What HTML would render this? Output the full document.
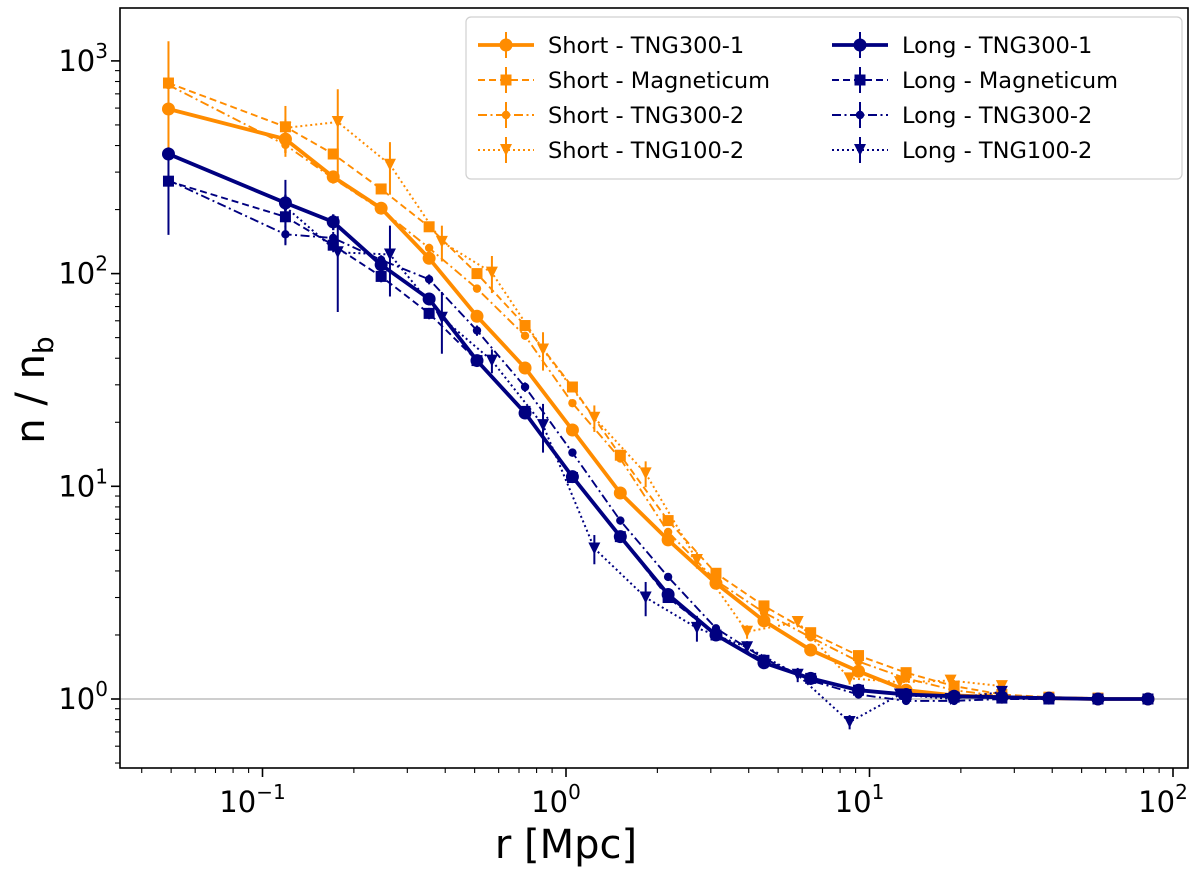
<!DOCTYPE html>
<html><head><meta charset="utf-8"><style>
body{margin:0;background:#fff;}
svg text{font-family:"DejaVu Sans","Liberation Sans",sans-serif;}
</style></head><body>
<svg id="chart" width="1200" height="868" viewBox="0 0 1200 868" xmlns="http://www.w3.org/2000/svg">
<g id="grid"></g><g id="series"></g><g id="axes"></g><g id="legend"></g>
</svg>
<script>
const xA = [0.049,0.119,0.171,0.246,0.354,0.509,0.733,1.05,1.51,2.17,3.12,4.49,6.4,9.2,13.2,19,27.3,39,56.6,82.7];
const xB = [0.119,0.177,0.263,0.39,0.57,0.84,1.24,1.83,2.7,3.95,5.8,8.6,12.6,18.5,27.3];
const shortTNG300_1 = [594,429,285,203,118,63,36,18.4,9.3,5.6,3.5,2.33,1.70,1.35,1.10,1.04,1.02,1.01,1.0,1.0];
const shortTNG300_1Err = [0,60,20,10,6,3,1.5,0.6,0.3,0.15,0.1,0.05,0.04,0.03,0.02,0.01,0.01,0,0,0];
const shortMag = [787,490,365,250,166,100,57,29.3,14,6.9,3.9,2.74,2.05,1.6,1.33,1.15,1.05,1.02,1.01,1.0];
const shortMagErr = [450,40,20,10,6,3,1.5,0.6,0.3,0.15,0.1,0.05,0.04,0.03,0.02,0.01,0.01,0,0,0];
const shortTNG300_2 = [770,403,280,200,132,85,51,24.6,13.5,6.1,3.6,2.55,1.95,1.5,1.25,1.1,1.03,1.02,1.01,1.0];
const shortTNG300_2Err = [0,30,15,8,6,3,1.5,0.6,0.3,0.15,0.1,0.05,0.04,0.03,0.02,0.01,0.01,0,0,0];
const shortTNG100_2 = [484,516,325,141,101,44,21,11.5,4.5,2.07,2.3,1.25,1.2,1.22,1.15];
const shortTNG100_2Err = [130,220,90,27,20,9,3,1.6,0.4,0.15,0.12,0.08,0.06,0.05,0.05];
const longTNG300_1 = [365,215,175,110,76,39,22.1,11.1,5.8,3.1,2.0,1.48,1.25,1.1,1.05,1.03,1.02,1.01,1.0,1.0];
const longTNG300_1Err = [0,20,15,8,5,2,1,0.5,0.25,0.12,0.08,0.04,0.03,0.02,0.01,0.01,0,0,0,0];
const longMag = [272,185,136,97,65,39,22.5,11,5.8,3.0,2.0,1.52,1.25,1.1,1.05,1.02,1.01,1.0,1.0,1.0];
const longMagErr = [120,20,10,6,4,2,1,0.5,0.25,0.12,0.08,0.04,0.03,0.02,0.01,0.01,0,0,0,0];
const longTNG300_2 = [275,153,147,116,94,54,29.3,14.4,6.9,3.75,2.15,1.55,1.22,1.05,0.98,0.98,1.0,1.0,1.0,1.0];
const longTNG300_2Err = [0,15,10,6,5,3,1.5,0.6,0.3,0.15,0.08,0.04,0.03,0.02,0.01,0.01,0,0,0,0];
const longTNG100_2 = [206,126,123,62,39,19.4,5.1,3.0,2.16,1.75,1.3,0.78,1.05,1.0,1.08];
const longTNG100_2Err = [70,60,45,20,5,5,0.8,0.55,0.3,0.12,0.1,0.06,0.05,0.04,0.05];
const xTicks = [-1,0,1,2];
const yTicks = [0,1,2,3];

const NS="http://www.w3.org/2000/svg";
const L=120,R=1188,T=8,B=768;
function sx(v){return 566+303.5*Math.log10(v);}
function sy(v){return 699-212.7*Math.log10(v);}
function mk(tag,attrs,parent){const e=document.createElementNS(NS,tag);for(const k in attrs)e.setAttribute(k,attrs[k]);parent.appendChild(e);return e;}
const ORANGE="#ff8c00",NAVY="#000080";
const styles={solid:{w:3.8,d:"none"},dashed:{w:1.9,d:"7,4"},dashdot:{w:1.9,d:"9,3.5,2,3.5"},dotted:{w:2,d:"2,3"}};
function marker(g,type,x,y,c){
  let m;
  if(type==="circle")m=mk("circle",{cx:x,cy:y,r:6.5,fill:c},g);
  else if(type==="square")m=mk("rect",{x:x-5.5,y:y-5.5,width:11,height:11,fill:c},g);
  else if(type==="small")m=mk("circle",{cx:x,cy:y,r:4.2,fill:c},g);
  else m=mk("path",{d:`M${x-6},${y-6}L${x+6},${y-6}L${x},${y+6}Z`,fill:c},g);
  return m;
}
const sg=document.getElementById("series");
function drawSeries(name,xs,ys,errs,c,ls,mt){
  const g=mk("g",{},sg);
  
  
  const st=styles[ls];
  const pts=xs.map((x,i)=>sx(x).toFixed(1)+","+sy(ys[i]).toFixed(1)).join(" ");
  const pl=mk("polyline",{points:pts,fill:"none",stroke:c,"stroke-width":st.w,"stroke-dasharray":st.d,"stroke-linejoin":"round"},g);
  
  
  xs.forEach((x,i)=>{
    const e=errs[i];
    if(e>0){
      const lo=Math.max(ys[i]-e,0.3);
      const eb=mk("line",{x1:sx(x),x2:sx(x),y1:sy(lo),y2:sy(ys[i]+e),stroke:c,"stroke-width":st.w>2?2.4:2},g);
      
      
    }
    const m=marker(g,mt,sx(x),sy(ys[i]),c);
    
    
  });
}
const gl=mk("line",{x1:L,x2:R,y1:sy(1),y2:sy(1),stroke:"#b0b0b0","stroke-width":1.2},document.getElementById("grid"));



drawSeries("short-tng300-2",xA,shortTNG300_2,shortTNG300_2Err,ORANGE,"dashdot","small");
drawSeries("short-tng100-2",xB,shortTNG100_2,shortTNG100_2Err,ORANGE,"dotted","tri");
drawSeries("short-magneticum",xA,shortMag,shortMagErr,ORANGE,"dashed","square");
drawSeries("short-tng300-1",xA,shortTNG300_1,shortTNG300_1Err,ORANGE,"solid","circle");
drawSeries("long-tng300-2",xA,longTNG300_2,longTNG300_2Err,NAVY,"dashdot","small");
drawSeries("long-tng100-2",xB,longTNG100_2,longTNG100_2Err,NAVY,"dotted","tri");
drawSeries("long-magneticum",xA,longMag,longMagErr,NAVY,"dashed","square");
drawSeries("long-tng300-1",xA,longTNG300_1,longTNG300_1Err,NAVY,"solid","circle");

const ax=document.getElementById("axes");
const fr=mk("rect",{x:L,y:T,width:R-L,height:B-T,fill:"none",stroke:"#000","stroke-width":1.6},ax);


for(let d=-2;d<=2;d++){for(let k=1;k<10;k++){
  const v=k*Math.pow(10,d),px=sx(v);
  if(px<L||px>R)continue;
  mk("line",{x1:px,x2:px,y1:B,y2:B+(k===1?9:5),stroke:"#000","stroke-width":k===1?1.6:1.1},ax);
}}
for(let d=-1;d<=3;d++){for(let k=1;k<10;k++){
  const v=k*Math.pow(10,d),py=sy(v);
  if(py<T||py>B)continue;
  mk("line",{x1:L,x2:L-(k===1?9:5),y1:py,y2:py,stroke:"#000","stroke-width":k===1?1.6:1.1},ax);
}}
xTicks.forEach(p=>{
  const t=mk("text",{x:sx(Math.pow(10,p))-10,y:812,"font-size":29,"text-anchor":"middle"},ax);
  
  
  t.innerHTML="10<tspan dy='-13' font-size='20'>"+(p<0?"\u2212":"")+Math.abs(p)+"</tspan>";
});
yTicks.forEach(p=>{
  const t=mk("text",{x:108,y:sy(Math.pow(10,p))+10,"font-size":29,"text-anchor":"end"},ax);
  
  
  t.innerHTML="10<tspan dy='-13' font-size='20'>"+p+"</tspan>";
});
const xl=mk("text",{x:566,y:858,"font-size":40,"text-anchor":"middle"},ax);


xl.textContent="r [Mpc]";
const yl=mk("text",{x:0,y:0,"font-size":40,"text-anchor":"middle",transform:"translate(44,390) rotate(-90)"},ax);


yl.innerHTML="n / n<tspan dy='9' font-size='28'>b</tspan>";

const lg=document.getElementById("legend");
const lb=mk("rect",{x:466,y:17,width:716,height:162,rx:5,fill:"#fff","fill-opacity":0.85,stroke:"#d0d0d0","stroke-width":1.2},lg);


const entries=[
 ["Short - TNG300-1",ORANGE,"solid","circle"],["Short - Magneticum",ORANGE,"dashed","square"],
 ["Short - TNG300-2",ORANGE,"dashdot","small"],["Short - TNG100-2",ORANGE,"dotted","tri"],
 ["Long - TNG300-1",NAVY,"solid","circle"],["Long - Magneticum",NAVY,"dashed","square"],
 ["Long - TNG300-2",NAVY,"dashdot","small"],["Long - TNG100-2",NAVY,"dotted","tri"]];
entries.forEach((e,i)=>{
  const col=Math.floor(i/4),row=i%4;
  const x0=col?832:478,y0=45+row*35;
  const g=mk("g",{},lg);
  
  
  const st=styles[e[2]];
  mk("line",{x1:x0,x2:x0+56,y1:y0,y2:y0,stroke:e[1],"stroke-width":st.w,"stroke-dasharray":st.d},g);
  mk("line",{x1:x0+28,x2:x0+28,y1:y0-13,y2:y0+13,stroke:e[1],"stroke-width":2},g);
  marker(g,e[3],x0+28,y0,e[1]);
  const t=mk("text",{x:x0+70,y:y0+8,"font-size":22.5},g);
  t.textContent=e[0];
});
</script>
</body></html>
